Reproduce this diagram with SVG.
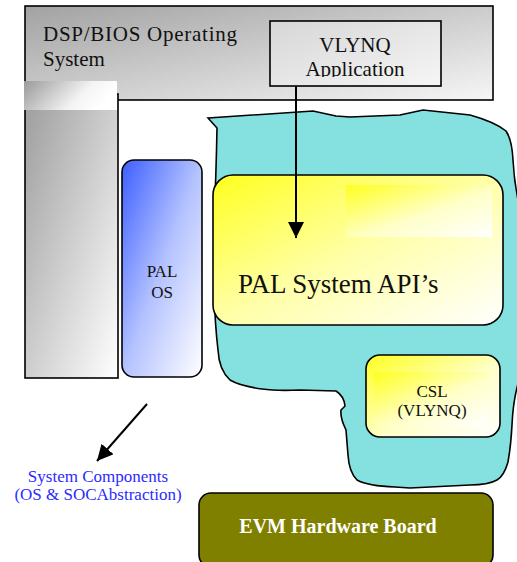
<svg xmlns="http://www.w3.org/2000/svg" width="517" height="562" viewBox="0 0 517 562">
<style>
.t{font-family:"Liberation Serif","Times New Roman",serif;fill:#111}
.b{stroke:#000;stroke-width:1.6}
.c{stroke:#000;stroke-width:2;fill:none}
</style>
<defs>
<linearGradient id="gGray" x1="0" y1="0" x2="1" y2="1"><stop offset="0" stop-color="#a2a2a2"/><stop offset="1" stop-color="#f6f6f6"/></linearGradient>
<linearGradient id="gCol" x1="0" y1="0" x2="1" y2="1"><stop offset="0" stop-color="#9c9c9c"/><stop offset="1" stop-color="#ffffff"/></linearGradient>
<linearGradient id="gPatch" x1="0" y1="0" x2="1" y2="0.3"><stop offset="0" stop-color="#9a9a9a"/><stop offset="0.7" stop-color="#f4f4f4"/><stop offset="1" stop-color="#ffffff"/></linearGradient>
<linearGradient id="gLight" x1="0" y1="0" x2="1" y2="1"><stop offset="0" stop-color="#d6d6d6"/><stop offset="1" stop-color="#f6f6f6"/></linearGradient>
<linearGradient id="gBlue" x1="0" y1="0" x2="1" y2="1"><stop offset="0" stop-color="#3d5fff"/><stop offset="0.5" stop-color="#b4c2ff"/><stop offset="1" stop-color="#ffffff"/></linearGradient>
<linearGradient id="gYel" x1="0" y1="0" x2="1" y2="1"><stop offset="0" stop-color="#ffff1e"/><stop offset="0.5" stop-color="#ffffa8"/><stop offset="1" stop-color="#ffffff"/></linearGradient>
<linearGradient id="gYel2" x1="0" y1="0" x2="1" y2="1"><stop offset="0" stop-color="#ffff20"/><stop offset="0.55" stop-color="#ffffc8"/><stop offset="1" stop-color="#ffffff"/></linearGradient>
<clipPath id="clipV"><rect x="271" y="22" width="169" height="55"/></clipPath>
<marker id="ah" markerUnits="userSpaceOnUse" markerWidth="18" markerHeight="18" refX="16" refY="8" orient="auto"><path d="M0,0 L16,8 L0,16 Z" fill="#000"/></marker>
</defs>

<g id="dspbios">
<rect x="25" y="6" width="468" height="94" fill="url(#gGray)" class="b"/>
<text class="t" x="43" y="41" font-size="21" textLength="194">DSP/BIOS Operating</text>
<text class="t" x="43" y="66" font-size="21">System</text>
</g>

<g id="vlynq-app">
<rect x="270" y="21" width="171" height="65" fill="url(#gLight)" class="b"/>
<g clip-path="url(#clipV)">
<text class="t" x="355" y="52" font-size="21" text-anchor="middle">VLYNQ</text>
<text class="t" x="355" y="76" font-size="21" text-anchor="middle">Application</text>
</g>
</g>

<g id="os-column">
<rect x="25" y="94" width="93" height="284" fill="url(#gCol)" class="b"/>
<rect x="24" y="81" width="93" height="29" fill="url(#gPatch)"/>
</g>

<g id="pal-os">
<rect x="122" y="160" width="80" height="217" rx="12" fill="url(#gBlue)" class="b"/>
<text class="t" x="162" y="277" font-size="17" text-anchor="middle">PAL</text>
<text class="t" x="162" y="298" font-size="17" text-anchor="middle">OS</text>
</g>

<g id="pal-region">
<path d="M208,118 L313,111 L336,116 L350,117 L400,115 L423,110 L470,115 Q495,122 506,131 Q512,140 513,160 Q514,180 518,200 L519,380 Q513,400 512,425 Q511,445 508,462 Q504,476 497,480 Q488,485 470,485 L410,488 L395,487 Q368,486 357,480 Q349,472 348,455 L346,430 Q340,418 341,410 L345,406 Q344,396 336,391 L300,390 Q276,391 262,389 Q240,386 230,380 Q219,370 218,350 Q215,325 214,290 L214,220 Q216,180 217,128 Z" fill="#84e1df" class="b"/>
</g>

<g id="pal-system-api">
<rect x="213" y="175" width="290" height="150" rx="20" fill="url(#gYel)" class="b"/>
<rect x="346" y="185" width="146" height="52" fill="url(#gYel2)"/>
<text class="t" x="238" y="293" font-size="27">PAL System API’s</text>
</g>

<g id="csl">
<rect x="366" y="355" width="134" height="82" rx="14" fill="url(#gYel2)" class="b"/>
<rect x="374" y="372" width="114" height="55" fill="url(#gYel2)"/>
<text class="t" x="432" y="397" font-size="17" text-anchor="middle">CSL</text>
<text class="t" x="432" y="416" font-size="17" text-anchor="middle">(VLYNQ)</text>
</g>

<g id="evm">
<rect x="199" y="493" width="294" height="74" rx="12" fill="#808000" class="b"/>
<text x="338" y="533" font-size="20" font-weight="bold" text-anchor="middle" fill="#ffffff" style="font-family:'Liberation Serif','Times New Roman',serif">EVM Hardware Board</text>
</g>

<g id="system-components-label">
<text x="98" y="482" font-size="17" text-anchor="middle" fill="#2b2bff" style="font-family:'Liberation Serif','Times New Roman',serif">System Components</text>
<text x="98" y="500" font-size="17" text-anchor="middle" fill="#2b2bff" style="font-family:'Liberation Serif','Times New Roman',serif">(OS &amp; SOCAbstraction)</text>
</g>

<g id="connectors">
<line x1="296" y1="86" x2="296" y2="238" class="c" marker-end="url(#ah)"/>
<line x1="147" y1="404" x2="97" y2="461" class="c" marker-end="url(#ah)"/>
</g>
</svg>
